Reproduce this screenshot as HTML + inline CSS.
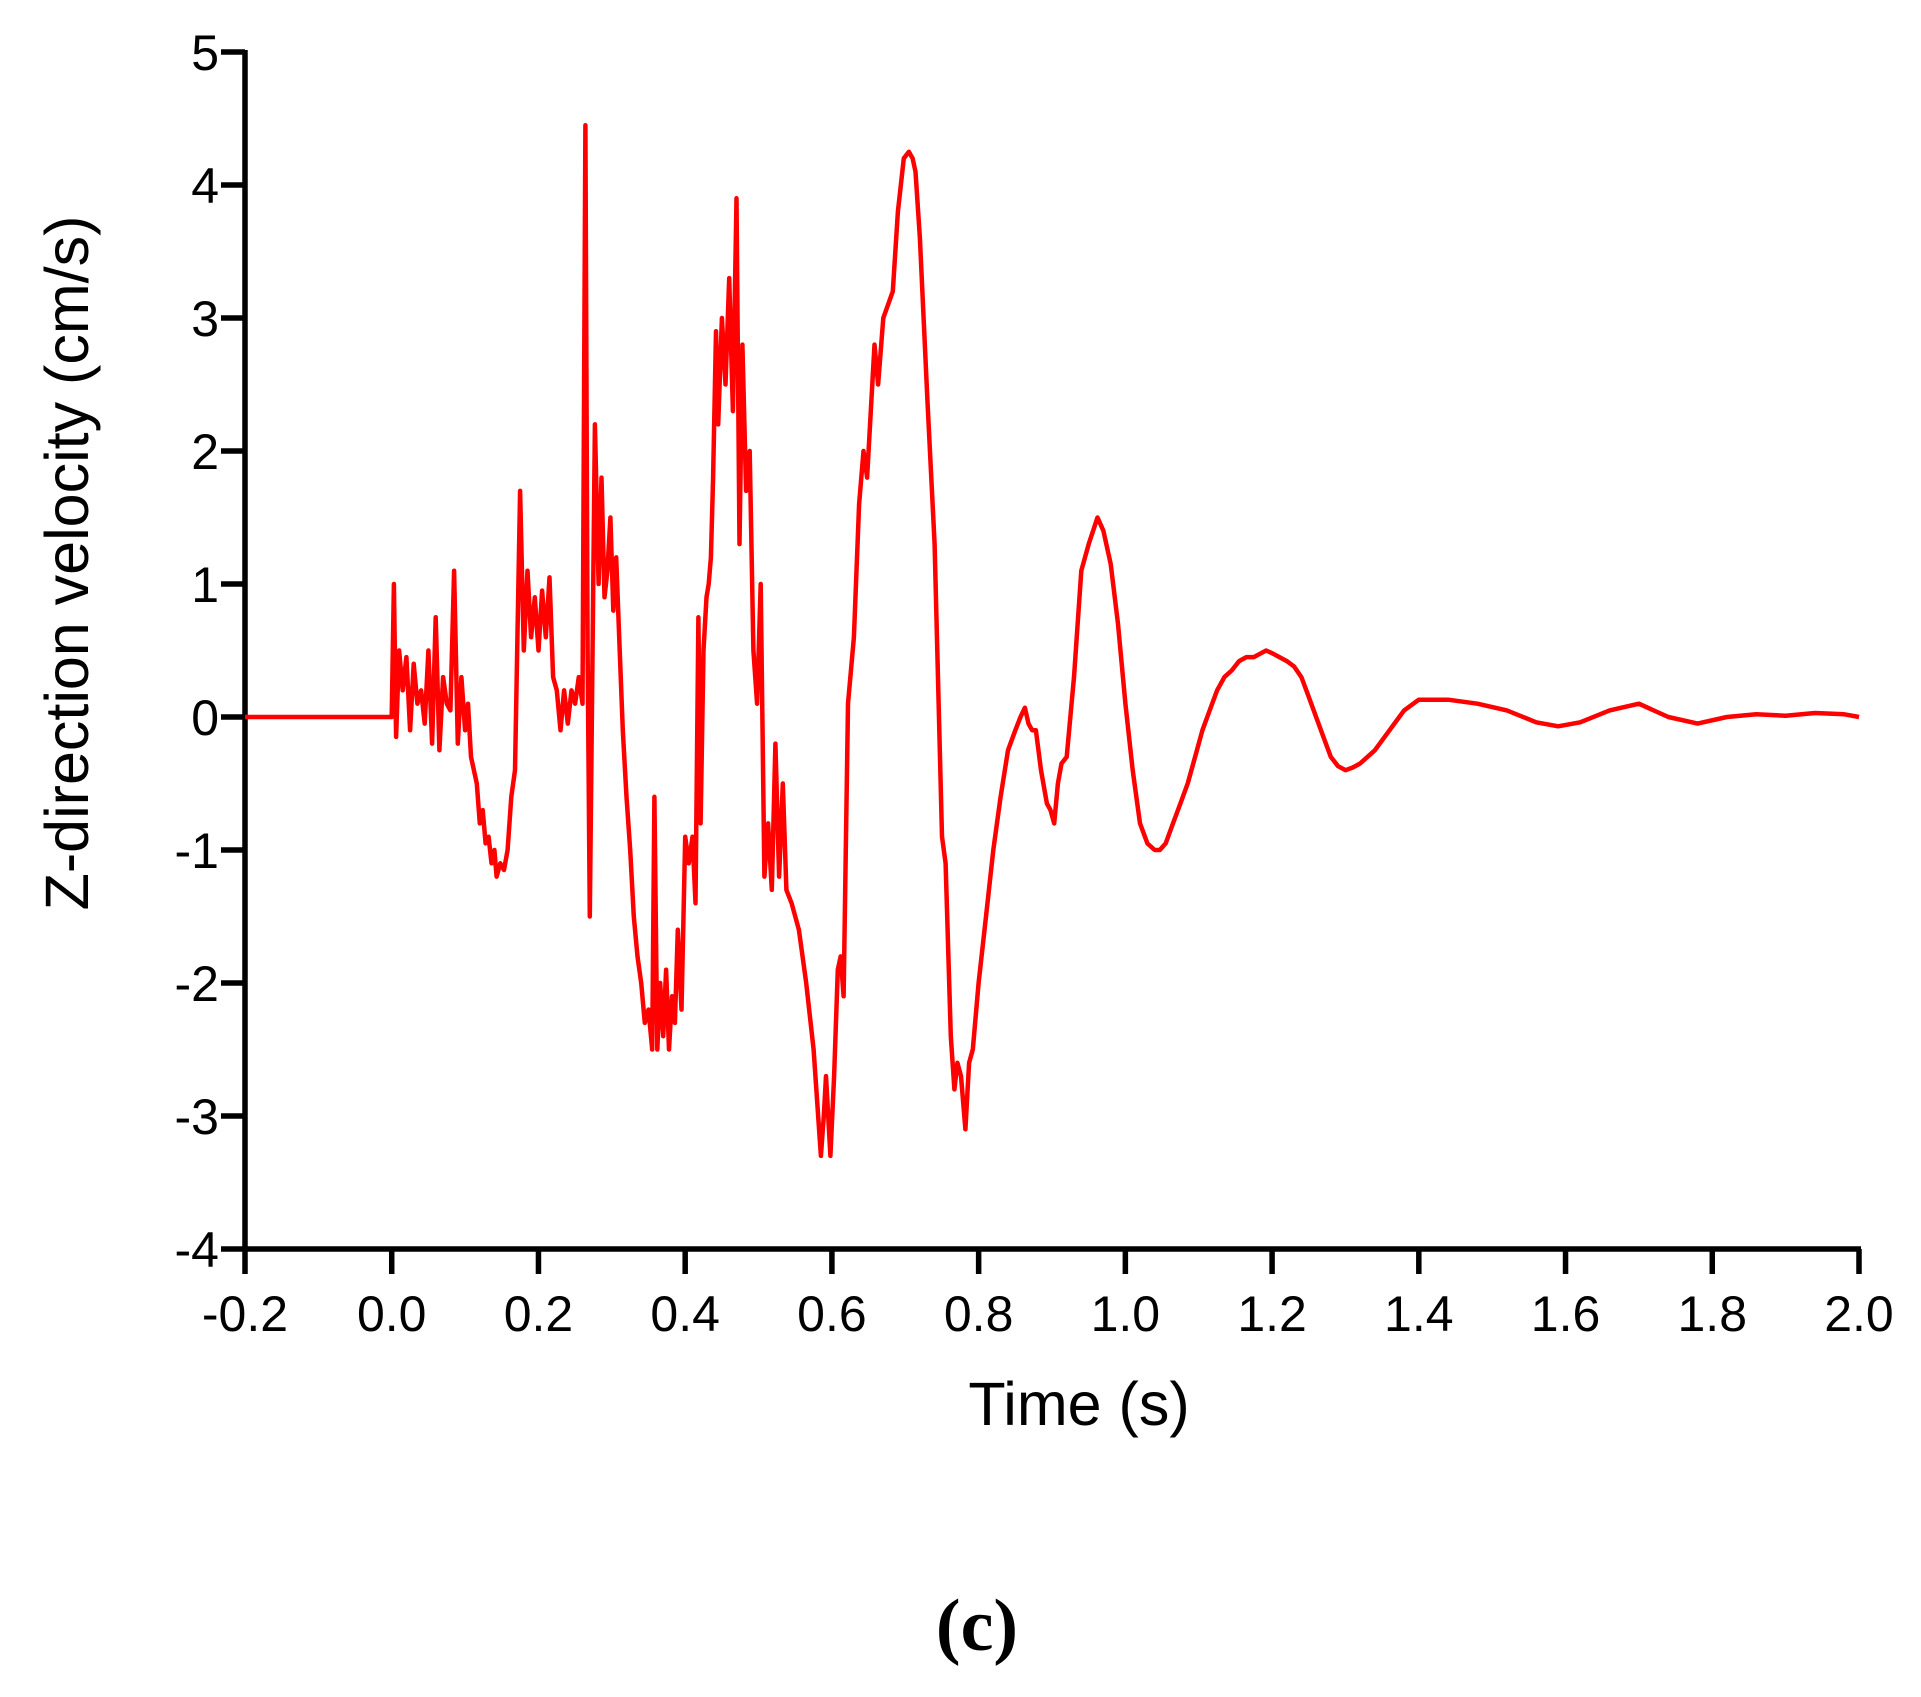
<!DOCTYPE html>
<html><head><meta charset="utf-8"><style>
html,body{margin:0;padding:0;background:#fff;}
svg text{font-family:"Liberation Sans",sans-serif;fill:#000;}
</style></head><body>
<svg id="chart" width="1921" height="1692" viewBox="0 0 1921 1692" xmlns="http://www.w3.org/2000/svg">
<g id="axes"></g>
<path id="series" fill="none" stroke="#ff0000" stroke-width="4.5" stroke-linejoin="round"/>
<text x="1079" y="1425" font-size="61" text-anchor="middle">Time (s)</text>
<text transform="translate(88,563) rotate(-90)" font-size="61" text-anchor="middle">Z-direction velocity (cm/s)</text>
<text x="977" y="1650" font-size="74" font-weight="bold" text-anchor="middle" style="font-family:'Liberation Serif',serif">(c)</text>
</svg>
<script>
const xTicks=[-0.2,0,0.2,0.4,0.6,0.8,1.0,1.2,1.4,1.6,1.8,2.0];
const xTickLabels=["-0.2","0.0","0.2","0.4","0.6","0.8","1.0","1.2","1.4","1.6","1.8","2.0"];
const yTicks=[-4,-3,-2,-1,0,1,2,3,4,5];
const yTickLabels=["-4","-3","-2","-1","0","1","2","3","4","5"];
const times=[
-0.2,0,0.003,0.006,0.01,0.015,0.02,0.025,0.03,0.035,
0.04,0.045,0.05,0.055,0.06,0.065,0.07,0.075,0.08,0.085,
0.09,0.095,0.1,0.104,0.108,0.112,0.116,0.12,0.124,0.128,
0.132,0.136,0.14,0.143,0.148,0.153,0.158,0.163,0.168,0.175,
0.18,0.185,0.19,0.195,0.2,0.205,0.21,0.215,0.22,0.225,
0.23,0.235,0.24,0.245,0.25,0.255,0.26,0.264,0.267,0.27,
0.277,0.282,0.286,0.29,0.294,0.298,0.302,0.306,0.31,0.315,
0.32,0.325,0.33,0.335,0.34,0.345,0.35,0.355,0.358,0.362,
0.366,0.37,0.374,0.378,0.382,0.386,0.39,0.395,0.4,0.405,
0.41,0.414,0.418,0.421,0.425,0.429,0.432,0.435,0.438,0.442,
0.445,0.45,0.455,0.46,0.465,0.47,0.474,0.478,0.483,0.488,
0.493,0.498,0.503,0.508,0.513,0.518,0.523,0.528,0.533,0.538,
0.545,0.555,0.565,0.575,0.585,0.589,0.592,0.598,0.603,0.608,
0.612,0.616,0.622,0.63,0.637,0.643,0.648,0.653,0.658,0.663,
0.67,0.683,0.69,0.698,0.705,0.71,0.714,0.72,0.73,0.74,
0.75,0.755,0.762,0.767,0.771,0.776,0.782,0.787,0.792,0.8,
0.81,0.82,0.83,0.84,0.85,0.857,0.863,0.868,0.873,0.878,
0.885,0.893,0.898,0.903,0.908,0.913,0.92,0.93,0.94,0.95,
0.962,0.97,0.98,0.99,1.0,1.01,1.02,1.03,1.04,1.047,
1.055,1.065,1.075,1.085,1.095,1.105,1.115,1.125,1.135,1.145,
1.155,1.165,1.175,1.185,1.192,1.2,1.21,1.22,1.23,1.24,
1.25,1.26,1.27,1.28,1.29,1.3,1.31,1.32,1.34,1.36,
1.38,1.4,1.44,1.48,1.52,1.56,1.59,1.62,1.66,1.7,
1.74,1.78,1.82,1.86,1.9,1.94,1.98,2.0];
const velocity=[
0,0,1.0,-0.15,0.5,0.2,0.45,-0.1,0.4,0.1,
0.2,-0.05,0.5,-0.2,0.75,-0.25,0.3,0.1,0.05,1.1,
-0.2,0.3,-0.1,0.1,-0.3,-0.4,-0.5,-0.8,-0.7,-0.95,
-0.9,-1.1,-1.0,-1.2,-1.1,-1.15,-1.0,-0.6,-0.4,1.7,
0.5,1.1,0.6,0.9,0.5,0.95,0.6,1.05,0.3,0.2,
-0.1,0.2,-0.05,0.2,0.1,0.3,0.1,4.45,0.5,-1.5,
2.2,1.0,1.8,0.9,1.1,1.5,0.8,1.2,0.6,-0.1,
-0.6,-1.0,-1.5,-1.8,-2.0,-2.3,-2.2,-2.5,-0.6,-2.5,
-2.0,-2.4,-1.9,-2.5,-2.1,-2.3,-1.6,-2.2,-0.9,-1.1,
-0.9,-1.4,0.75,-0.8,0.5,0.9,1.0,1.2,1.8,2.9,
2.2,3.0,2.5,3.3,2.3,3.9,1.3,2.8,1.7,2.0,
0.5,0.1,1.0,-1.2,-0.8,-1.3,-0.2,-1.2,-0.5,-1.3,
-1.4,-1.6,-2.0,-2.5,-3.3,-3.0,-2.7,-3.3,-2.7,-1.9,
-1.8,-2.1,0.1,0.6,1.6,2.0,1.8,2.3,2.8,2.5,
3.0,3.2,3.8,4.2,4.25,4.2,4.1,3.6,2.4,1.3,
-0.9,-1.1,-2.4,-2.8,-2.6,-2.7,-3.1,-2.6,-2.5,-2.0,
-1.5,-1.0,-0.6,-0.25,-0.1,0.0,0.07,-0.05,-0.1,-0.1,
-0.4,-0.65,-0.7,-0.8,-0.5,-0.35,-0.3,0.3,1.1,1.3,
1.5,1.4,1.15,0.7,0.1,-0.4,-0.8,-0.95,-1.0,-1.0,
-0.95,-0.8,-0.65,-0.5,-0.3,-0.1,0.05,0.2,0.3,0.35,
0.42,0.45,0.45,0.48,0.5,0.48,0.45,0.42,0.38,0.3,
0.15,0.0,-0.15,-0.3,-0.37,-0.4,-0.38,-0.35,-0.25,-0.1,
0.05,0.13,0.13,0.1,0.05,-0.04,-0.07,-0.04,0.05,0.1,
0.0,-0.05,0.0,0.02,0.01,0.03,0.02,0.0];
const X0=245,X1=1859,Y0=1249,Y1=52;
function xs(t){return X0+(t-(-0.2))/(2.2)*(X1-X0);}
function ys(v){return Y0-(v-(-4))/9*(Y0-Y1);}
const NS="http://www.w3.org/2000/svg";
const axes=document.getElementById('axes');
function mk(tag,attrs,parent){const e=document.createElementNS(NS,tag);for(const k in attrs)e.setAttribute(k,attrs[k]);parent.appendChild(e);return e;}
let e;
e=mk('line',{x1:X0,y1:Y1-2,x2:X0,y2:Y0,stroke:'#000','stroke-width':5.5},axes);


e=mk('line',{x1:X0,y1:Y0,x2:X1+2,y2:Y0,stroke:'#000','stroke-width':5.5},axes);


xTicks.forEach((t,i)=>{const x=xs(t);
 e=mk('line',{x1:x,y1:Y0,x2:x,y2:Y0+25,stroke:'#000','stroke-width':5.5},axes);
 
 
 e=mk('text',{x:x,y:Y0+82,'font-size':50,'text-anchor':'middle'},axes);e.textContent=xTickLabels[i];
 
 
});
yTicks.forEach((v,i)=>{const y=ys(v);
 e=mk('line',{x1:X0-24,y1:y,x2:X0,y2:y,stroke:'#000','stroke-width':5.5},axes);
 
 
 e=mk('text',{x:X0-26,y:y+18,'font-size':50,'text-anchor':'end'},axes);e.textContent=yTickLabels[i];
 
 
});
document.getElementById('series').setAttribute('d',times.map((t,i)=>(i?'L':'M')+xs(t).toFixed(1)+' '+ys(velocity[i]).toFixed(1)).join(' '));
</script>
</body></html>
